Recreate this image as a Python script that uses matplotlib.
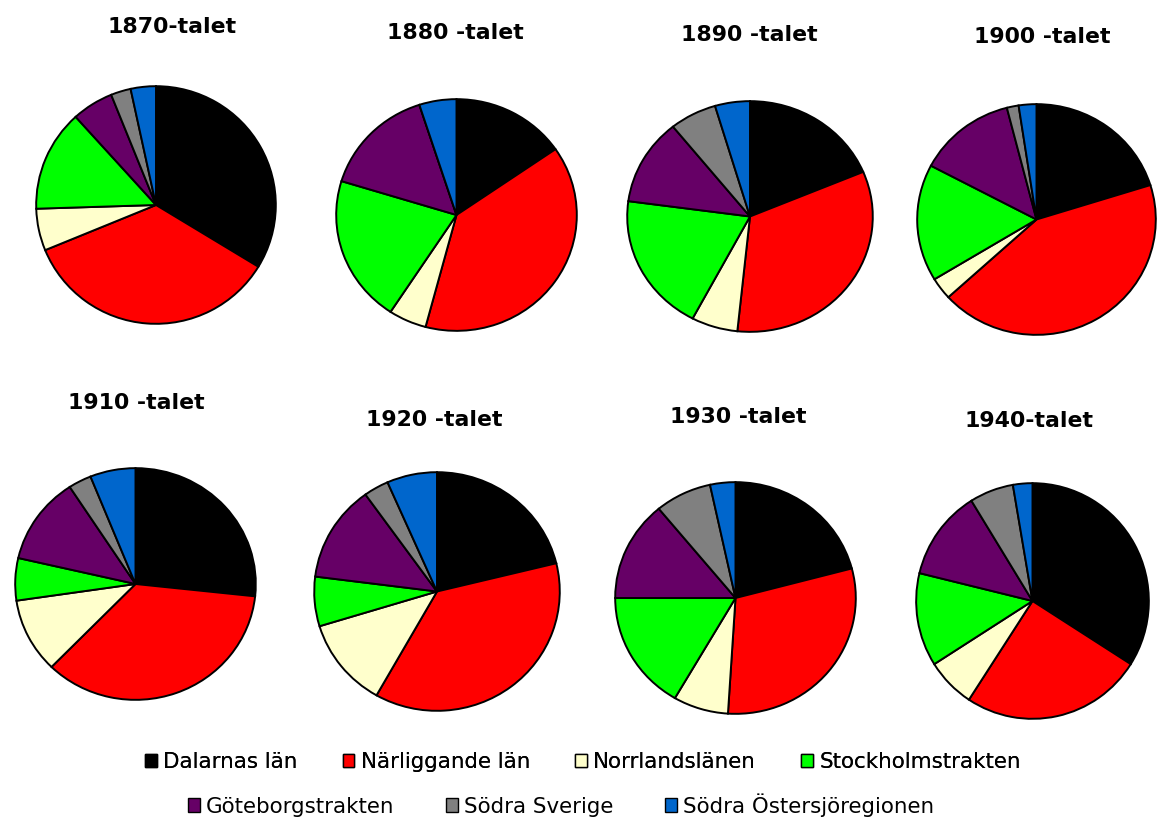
import matplotlib
matplotlib.use("Agg")
import matplotlib.pyplot as plt
from matplotlib.patches import Patch

# ---- data (percent shares) ----
titles = ["1870-talet", "1880 -talet", "1890 -talet", "1900 -talet",
          "1910 -talet", "1920 -talet", "1930 -talet", "1940-talet"]
categories = ["Dalarnas län", "Närliggande län", "Norrlandslänen", "Stockholmstrakten",
              "Göteborgstrakten", "Södra Sverige", "Södra Östersjöregionen"]
dalarnas     = [33.7, 15.4, 18.7, 20.2, 26.7, 21.2, 20.9, 34.0]
narliggande  = [35.1, 38.8, 33.0, 43.1, 35.6, 37.0, 30.1, 25.2]
norrland     = [5.7, 5.1, 6.1, 3.1, 10.4, 12.1, 7.4, 6.8]
stockholm    = [13.8, 20.5, 19.4, 16.4, 5.9, 6.7, 16.6, 12.8]
goteborg     = [5.6, 15.3, 12.1, 13.3, 12.2, 13.1, 14.0, 12.4]
sodra_sv     = [2.7, 0.0, 6.2, 1.6, 3.1, 3.3, 7.6, 6.1]
ostersjo     = [3.4, 5.0, 4.6, 2.4, 6.1, 6.6, 3.4, 2.7]
series = [dalarnas, narliggande, norrland, stockholm, goteborg, sodra_sv, ostersjo]

colors = ["#000000", "#FF0000", "#FFFFCC", "#00FF00", "#660066", "#808080", "#0066CC"]

W, H = 1157, 823
fig = plt.figure(figsize=(W / 100, H / 100), dpi=100)
fig.patch.set_facecolor("white")

# pie boxes in pixels: (left, top, right, bottom)
boxes = [(35, 85, 277, 325), (335, 98, 578, 332), (626, 100, 874, 333), (916, 103, 1157, 336),
         (14, 467, 257, 701), (313, 471, 561, 712), (614, 481, 857, 715), (915, 482, 1150, 720)]
title_pos = [(172, 27), (455, 33), (749, 35), (1042, 37),
             (136, 403), (434, 420), (738, 417), (1029, 421)]

for i, (l, t, r, b) in enumerate(boxes):
    ax = fig.add_axes([l / W, 1 - b / H, (r - l) / W, (b - t) / H])
    vals = [s[i] for s in series]
    ax.pie(vals, colors=colors, startangle=90, counterclock=False,
           wedgeprops=dict(edgecolor="black", linewidth=1.4))
    ax.set_aspect("auto")
    ax.set_xlim(-1.01, 1.01)
    ax.set_ylim(-1.01, 1.01)
    ax.axis("off")
    tx, ty = title_pos[i]
    fig.text(tx / W, 1 - ty / H, titles[i], ha="center", va="center",
             fontsize=15.8, fontweight="bold", family="DejaVu Sans")

handles = [Patch(facecolor=c, edgecolor="black", linewidth=1.0) for c in colors]
common = dict(frameon=False, handlelength=0.55, handleheight=0.6,
              handletextpad=0.3, borderpad=0, borderaxespad=0,
              prop={"family": "DejaVu Sans", "size": 15.4})
leg1 = fig.legend(handles[:4], categories[:4], ncol=4, loc="center", columnspacing=2.1,
                  bbox_to_anchor=(583 / W, 1 - 762 / H), **common)
leg2 = fig.legend(handles[4:], categories[4:], ncol=3, loc="center", columnspacing=2.4,
                  bbox_to_anchor=(561 / W, 1 - 805 / H), **common)
fig.add_artist(leg1)

fig.savefig("out.png", dpi=100, facecolor="white")
